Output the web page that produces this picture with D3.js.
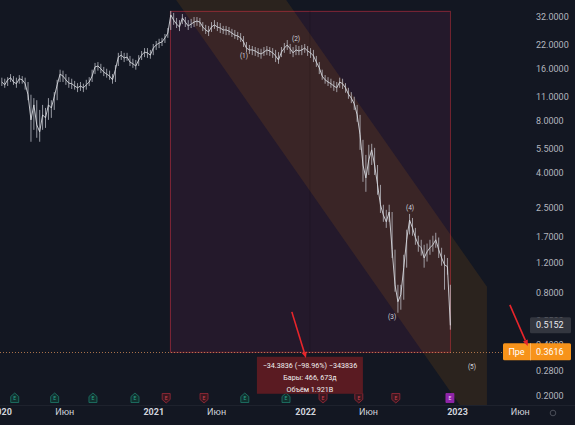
<!DOCTYPE html>
<html>
<head>
<meta charset="utf-8">
<script src="https://cdn.jsdelivr.net/npm/d3@7"></script>
<style>
  html, body { margin: 0; padding: 0; background: #131722; }
  svg { display: block; font-family: Roboto, "Noto Sans", sans-serif; }
</style>
</head>
<body>
<div id="chart"></div>
<script>
// weekly bars, first one on this date, one every 7 days
const firstWeek = "2020-01-03";

const closes = [
  13.4, 12.9, 13.8, 14.2, 13.4, 13.1, 14.0, 13.8, 13.1, 11.3,
  8.07, 9.86, 7.55, 6.88, 8.63, 8.29, 9.86, 9.47, 11.0, 12.9,
  14.9, 14.5, 13.8, 13.2, 13.1, 12.7, 12.4, 12.7, 12.4, 12.9,
  13.4, 14.5, 16.4, 16.6, 16.0, 15.3, 14.9, 14.5, 13.8, 15.8,
  18.7, 19.2, 18.5, 18.7, 17.5, 17.1, 16.6, 18.0, 19.2, 20.0,
  19.8, 19.2, 21.1, 22.0, 22.6, 22.9, 24.2, 25.8, 32.9, 30.7,
  29.1, 28.0, 31.6, 29.9, 28.4, 29.1, 29.9, 30.3, 29.9, 28.0,
  26.9, 26.2, 28.0, 28.8, 28.0, 27.6, 26.9, 26.9, 26.5, 25.8,
  25.1, 24.8, 24.2, 22.9, 21.1, 20.6, 20.6, 20.3, 19.8, 19.5,
  20.0, 20.6, 20.3, 19.8, 19.0, 18.0, 20.0, 21.1, 22.0, 20.9,
  19.8, 20.6, 20.3, 20.6, 21.1, 20.3, 19.8, 19.0, 17.5, 16.2,
  14.5, 13.8, 13.4, 13.1, 12.7, 12.4, 13.4, 13.1, 12.4, 11.4,
  10.8, 10.0, 8.63, 6.61, 4.41, 3.71, 4.73, 5.40, 4.41, 3.38,
  2.59, 2.26, 2.06, 2.35, 1.42, 0.887, 0.707, 0.776, 1.115, 1.62,
  2.11, 1.90, 1.67, 1.515, 1.456, 1.27, 1.38, 1.456, 1.515, 1.62,
  1.42, 1.27, 1.16, 1.13, 0.5152
];

const highs = [
  14.2, 14.0, 14.3, 14.9, 14.5, 14.2, 14.7, 14.5, 14.2, 13.4,
  11.3, 10.8, 10.5, 9.22, 9.86, 9.47, 10.8, 10.5, 11.7, 13.8,
  15.8, 15.6, 14.9, 14.3, 14.0, 13.6, 13.2, 13.4, 13.1, 13.8,
  14.3, 15.8, 17.3, 17.5, 17.1, 16.4, 16.0, 15.6, 14.9, 16.8,
  19.8, 20.3, 19.8, 19.8, 19.0, 18.3, 18.0, 19.2, 20.3, 21.1,
  21.1, 20.6, 22.3, 23.2, 23.9, 24.2, 25.5, 27.6, 34.7, 33.8,
  31.6, 30.7, 33.3, 32.0, 30.7, 31.2, 32.0, 32.0, 31.6, 29.9,
  28.8, 28.4, 29.9, 30.7, 29.9, 29.5, 28.4, 28.4, 28.0, 27.3,
  26.9, 26.2, 25.8, 24.8, 22.9, 22.0, 21.7, 21.4, 21.1, 20.9,
  21.4, 21.7, 21.4, 21.1, 20.6, 20.0, 21.4, 22.6, 23.5, 22.3,
  21.4, 22.0, 21.7, 22.0, 22.3, 21.7, 21.1, 20.6, 19.0, 17.5,
  15.8, 14.7, 14.3, 14.0, 13.6, 13.4, 14.2, 14.0, 13.2, 12.4,
  11.7, 11.0, 9.86, 8.63, 6.18, 5.05, 5.78, 5.86, 5.55, 4.41,
  3.38, 2.59, 2.42, 2.59, 2.35, 1.42, 0.887, 0.887, 1.325, 1.855,
  2.29, 2.17, 1.90, 1.71, 1.62, 1.515, 1.54, 1.62, 1.71, 1.78,
  1.67, 1.456, 1.325, 1.27, 0.887
];

const lows = [
  12.7, 12.4, 12.7, 13.4, 12.9, 12.4, 13.1, 13.1, 12.1, 10.5,
  6.02, 7.06, 6.35, 6.02, 7.06, 7.25, 8.07, 8.29, 9.22, 10.5,
  13.4, 13.4, 12.9, 12.4, 12.2, 12.1, 11.7, 11.9, 11.7, 12.1,
  12.7, 13.4, 14.9, 15.6, 15.1, 14.5, 14.2, 13.8, 13.1, 13.4,
  16.6, 18.0, 17.5, 17.8, 16.6, 16.2, 15.8, 16.6, 18.0, 18.7,
  18.5, 18.3, 19.2, 20.6, 21.1, 21.7, 22.6, 24.2, 26.9, 28.8,
  27.6, 26.5, 29.1, 28.0, 26.9, 27.6, 28.0, 28.4, 28.0, 26.5,
  25.5, 24.8, 26.2, 27.3, 26.5, 25.8, 25.5, 25.1, 25.1, 24.5,
  23.9, 23.5, 22.9, 21.4, 20.0, 19.5, 19.2, 19.0, 18.7, 18.3,
  19.0, 19.2, 19.0, 18.5, 17.5, 17.1, 18.7, 19.8, 20.6, 19.5,
  18.7, 19.2, 19.2, 19.2, 19.8, 19.0, 18.5, 17.5, 16.4, 14.9,
  13.8, 13.1, 12.7, 12.4, 11.9, 11.7, 12.4, 12.2, 11.6, 10.7,
  10.1, 9.22, 7.86, 5.40, 3.52, 3.08, 3.86, 4.41, 3.86, 2.96,
  2.32, 2.06, 1.90, 2.06, 1.27, 0.808, 0.610, 0.635, 0.726, 1.115,
  1.74, 1.71, 1.515, 1.38, 1.31, 1.115, 1.21, 1.325, 1.38, 1.456,
  1.27, 1.145, 0.830, 1.015, 0.486
];

const yTicks = [32, 22, 16, 11, 8, 5.5, 4, 2.5, 1.7, 1.2, 0.8, 0.55, 0.4, 0.28, 0.2];
const xTickDates = ["2020-01-01", "2020-06-01", "2021-01-01", "2021-06-01", "2022-01-01", "2022-06-01", "2023-01-01", "2023-06-01"];
const xTickLabels = ["2020", "Июн", "2021", "Июн", "2022", "Июн", "2023", "Июн"];

// date & price range tool
const rangeStart = "2021-02-10", rangeEnd = "2022-12-15";
const rangeHigh = 34.745, rangeLow = 0.3616;
const rangeLines = ["\u221234.3836 (\u221298.96%) \u2212343836", "Бары: 466, 673д", "Объём 1.921B"];

// parallel channel
const channelDates = ["2021-02-10", "2023-03-14"];
const channelUpper = [371, 0.864];
const channelLower = [45.3, 0.1055];

// wave labels
const waveDates = ["2021-08-07", "2021-12-10", "2022-07-29", "2022-09-10", "2023-02-06"];
const wavePrices = [19.0, 23.9, 0.578, 2.49, 0.296];
const waveLabels = ["(1)", "(2)", "(3)", "(4)", "(5)"];

// earnings markers
const earnDates = ["2020-02-03", "2020-05-09", "2020-08-09", "2020-11-18", "2021-02-01", "2021-05-03",
                   "2021-08-09", "2021-11-16", "2022-02-13", "2022-05-10", "2022-08-07", "2022-12-15"];
const earnKind = ["up", "up", "up", "up", "down", "down", "up", "up", "down", "down", "down", "next"];

const lastClose = 0.5152, prePrice = 0.3616;

// red arrows [date, price] -> [date, price]
const arrows = [
  [["2021-11-30", 0.617], ["2022-01-03", 0.333]],
  [["2023-05-08", 0.678], ["2023-06-20", 0.391]]
];

const W = 575, H = 425, paneW = 503, paneH = 405;
const parse = d3.utcParse("%Y-%m-%d");

const x = d3.scaleUtc()
  .domain([parse("2020-01-01"), parse("2023-01-01")])
  .range([1, 457]);
const y = d3.scaleLog()
  .domain([0.2, 32])
  .range([396, 17]);

const start = parse(firstWeek);
const bars = closes.map((c, i) => ({
  date: d3.utcDay.offset(start, 7 * i), close: c, high: highs[i], low: lows[i]
}));

const svg = d3.select("#chart").append("svg")
  .attr("width", W).attr("height", H);

svg.append("rect").attr("width", W).attr("height", H).attr("fill", "#131722");

svg.append("clipPath").attr("id", "pane")
  .append("rect").attr("width", paneW).attr("height", paneH);

const pane = svg.append("g").attr("clip-path", "url(#pane)");

// range rectangle
const rx0 = x(parse(rangeStart)), rx1 = x(parse(rangeEnd));
const ry0 = y(rangeHigh), ry1 = y(rangeLow);
pane.append("rect")
  .attr("x", rx0).attr("y", ry0)
  .attr("width", rx1 - rx0).attr("height", ry1 - ry0)
  .attr("fill", "rgba(190,50,125,0.1)");

// channel
const cx0 = x(parse(channelDates[0])), cx1 = x(parse(channelDates[1]));
pane.append("path")
  .attr("d", d3.line()([
    [cx0, y(channelUpper[0])], [cx1, y(channelUpper[1])],
    [cx1, y(channelLower[1])], [cx0, y(channelLower[0])]
  ]) + "Z")
  .attr("fill", "rgba(255,152,0,0.1)");

// range border and centre line
pane.append("rect")
  .attr("x", rx0 + 0.5).attr("y", ry0 + 0.5)
  .attr("width", rx1 - rx0).attr("height", ry1 - ry0)
  .attr("fill", "none")
  .attr("stroke", "rgba(242,54,69,0.45)").attr("stroke-width", 1);
pane.append("line")
  .attr("x1", (rx0 + rx1) / 2).attr("x2", (rx0 + rx1) / 2)
  .attr("y1", ry0).attr("y2", ry1)
  .attr("stroke", "rgba(0,0,0,0.15)");

// pre-market price line
pane.append("line")
  .attr("x1", 0).attr("x2", paneW)
  .attr("y1", Math.round(y(prePrice)) + 0.5).attr("y2", Math.round(y(prePrice)) + 0.5)
  .attr("stroke", "#d9905a").attr("stroke-opacity", 0.75)
  .attr("stroke-dasharray", "1,2");

// price bars
pane.append("g").selectAll("line")
  .data(bars)
  .join("line")
    .attr("x1", d => x(d.date)).attr("x2", d => x(d.date))
    .attr("y1", d => y(d.high)).attr("y2", d => y(d.low))
    .attr("stroke", "#c3c6cd").attr("stroke-width", 0.75);

pane.append("path")
  .datum(bars)
  .attr("fill", "none")
  .attr("stroke", "#d6d8de").attr("stroke-width", 0.9)
  .attr("d", d3.line().x(d => x(d.date)).y(d => y(d.close)));

// wave labels
pane.append("g").selectAll("text")
  .data(waveLabels)
  .join("text")
    .attr("x", (d, i) => x(parse(waveDates[i])))
    .attr("y", (d, i) => y(wavePrices[i]))
    .attr("dy", "0.35em")
    .attr("text-anchor", "middle")
    .attr("font-size", 6.5)
    .attr("fill", "#d1d4dc")
    .text(d => d);

// earnings markers
const ek = pane.append("g").selectAll("g")
  .data(earnDates)
  .join("g")
    .attr("transform", d => `translate(${x(parse(d))},398)`);
ek.append("path")
  .attr("d", (d, i) => {
    const k = earnKind[i];
    if (k === "up") return "M-4,-1.5L0,-5L4,-1.5L4,4.5L-4,4.5Z";
    if (k === "down") return "M-4,-4.5L4,-4.5L4,1.5L0,5L-4,1.5Z";
    return "M-4,-4.5L4,-4.5L4,4.5L-4,4.5Z";
  })
  .attr("fill", (d, i) => earnKind[i] === "up" ? "#11302e" : earnKind[i] === "down" ? "#3a1820" : "#8e24aa")
  .attr("stroke", (d, i) => earnKind[i] === "up" ? "#1e7a6a" : earnKind[i] === "down" ? "#9a2a38" : "#9c27b0")
  .attr("stroke-width", 0.8);
ek.append("text")
  .attr("text-anchor", "middle")
  .attr("dy", "0.35em")
  .attr("font-size", 5)
  .attr("fill", (d, i) => earnKind[i] === "up" ? "#2aa58e" : earnKind[i] === "down" ? "#d04050" : "#f0d8f4")
  .text("E");

// range tooltip
const tx = (rx0 + rx1) / 2;
svg.append("rect")
  .attr("x", tx - 53).attr("y", ry1 + 5)
  .attr("width", 106).attr("height", 37)
  .attr("fill", "#5a1b22");
svg.append("g").selectAll("text")
  .data(rangeLines)
  .join("text")
    .attr("x", tx)
    .attr("y", (d, i) => ry1 + 16 + i * 12)
    .attr("text-anchor", "middle")
    .attr("font-size", 7.2)
    .attr("fill", "#f0f0f0")
    .text(d => d);

// time axis
svg.append("line")
  .attr("x1", 0).attr("x2", W).attr("y1", paneH + 0.5).attr("y2", paneH + 0.5)
  .attr("stroke", "#1e222d");
const xAxis = svg.append("g")
  .attr("transform", `translate(0,${paneH})`)
  .call(d3.axisBottom(x)
    .tickValues(xTickDates.map(parse))
    .tickFormat((d, i) => xTickLabels[i])
    .tickSize(0).tickPadding(4));
xAxis.select(".domain").remove();
xAxis.selectAll("text")
  .attr("fill", "#d1d4dc")
  .attr("font-size", 9)
  .attr("font-family", "Roboto, sans-serif")
  .attr("font-weight", (d, i) => xTickLabels[i] === "Июн" ? 400 : 700);

svg.append("circle")
  .attr("cx", 553).attr("cy", 413).attr("r", 2.8)
  .attr("fill", "none").attr("stroke", "#50535e").attr("stroke-width", 0.9);

// price axis
const yAxis = svg.append("g")
  .attr("transform", "translate(536,0)")
  .call(d3.axisRight(y)
    .tickValues(yTicks)
    .tickFormat(d3.format(".4f"))
    .tickSize(0).tickPadding(0));
yAxis.select(".domain").remove();
yAxis.selectAll("text")
  .attr("fill", "#b2b5be")
  .attr("font-size", 9)
  .attr("font-family", "Roboto, sans-serif");

// last price label
const yl = y(lastClose);
svg.append("rect")
  .attr("x", 530).attr("y", yl - 8).attr("width", 41).attr("height", 16)
  .attr("rx", 1.5).attr("fill", "#33363f");
svg.append("text")
  .attr("x", 536).attr("y", yl).attr("dy", "0.35em")
  .attr("font-size", 9).attr("fill", "#e8e9ec")
  .text(d3.format(".4f")(lastClose));

// pre-market label
const yp = y(prePrice);
svg.append("rect")
  .attr("x", 503).attr("y", yp - 8.5).attr("width", 68).attr("height", 17)
  .attr("rx", 1.5).attr("fill", "#f7931a");
svg.append("line")
  .attr("x1", 530.5).attr("x2", 530.5).attr("y1", yp - 8.5).attr("y2", yp + 8.5)
  .attr("stroke", "#fbc27a").attr("stroke-width", 0.8);
svg.append("text")
  .attr("x", 516.5).attr("y", yp).attr("dy", "0.35em")
  .attr("text-anchor", "middle")
  .attr("font-size", 9).attr("fill", "#ffffff")
  .text("Пре");
svg.append("text")
  .attr("x", 536).attr("y", yp).attr("dy", "0.35em")
  .attr("font-size", 9).attr("fill", "#ffffff")
  .text(d3.format(".4f")(prePrice));

// red arrows
arrows.forEach(([a, b]) => {
  const x0 = x(parse(a[0])), y0 = y(a[1]);
  const x1 = x(parse(b[0])), y1 = y(b[1]);
  const ang = Math.atan2(y1 - y0, x1 - x0);
  const len = 6, hw = 2.6;
  const bx = x1 - len * Math.cos(ang), by = y1 - len * Math.sin(ang);
  svg.append("line")
    .attr("x1", x0).attr("y1", y0).attr("x2", bx).attr("y2", by)
    .attr("stroke", "#e8252b").attr("stroke-width", 1.6);
  svg.append("path")
    .attr("d", d3.line()([
      [x1, y1],
      [bx + hw * Math.sin(ang), by - hw * Math.cos(ang)],
      [bx - hw * Math.sin(ang), by + hw * Math.cos(ang)]
    ]) + "Z")
    .attr("fill", "#e8252b");
});
</script>
</body>
</html>
